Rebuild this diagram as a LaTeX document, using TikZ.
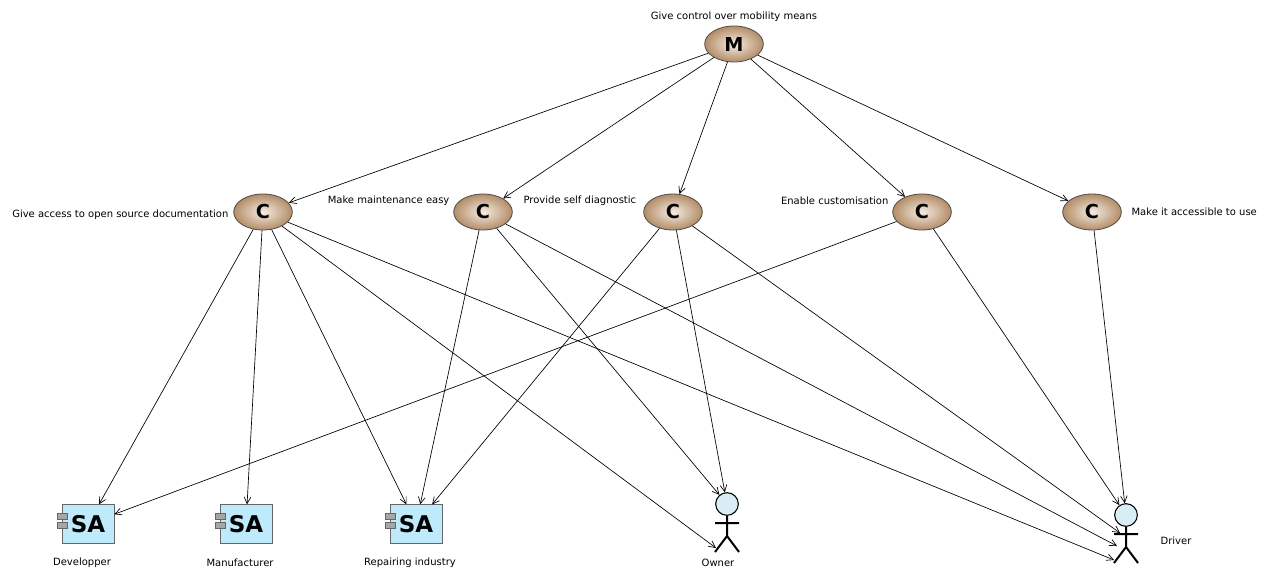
\documentclass[tikz,border=0pt]{standalone}
\usepackage{fontspec}
\setmainfont{DejaVu Sans}
\usetikzlibrary{shapes.geometric,arrows.meta}
\begin{document}
\begin{tikzpicture}[x=0.75pt,y=-0.75pt,
  goal/.style={ellipse,draw=black!70,line width=0.6pt,minimum width=44pt,minimum height=27pt,inner sep=0pt,
    inner color=white!85!brown,outer color=brown!70!white!85!black,font=\bfseries\Large},
  sa/.style={rectangle,draw=black!60,fill=cyan!25,minimum width=39pt,minimum height=29pt,inner sep=0pt,font=\bfseries\LARGE},
  lbl/.style={font=\fontsize{7.5}{9}\selectfont,inner sep=1pt},
  e/.style={-{Straight Barb[length=5pt,width=5pt]},line width=0.5pt}]
\useasboundingbox (0,0) rectangle (1269,579);
\fill[white] (0,0) rectangle (1269,579);
% goals
\node[goal] (M) at (734,44) {M};
\foreach \n/\x in {c1/263,c2/483,c3/673,c4/922,c5/1092}{\node[goal] (\n) at (\x,212) {C};}
\node[lbl] (tM) at (734,17) {Give control over mobility means};
\node[lbl,anchor=east] (t1) at (230,215) {Give access to open source documentation};
\node[lbl,anchor=east] (t2) at (451,201) {Make maintenance easy};
\node[lbl,anchor=west] (t3) at (522,201) {Provide self diagnostic};
\node[lbl,anchor=east] (t4) at (890,201) {Enable customisation};
\node[lbl,anchor=west] (t5) at (1130,212) {Make it accessible to use};
% SA
\foreach \n/\x/\t in {dev/88/Developper,man/246/Manufacturer,rep/416/Repairing industry}{
  \node[sa] (\n) at (\x,524) {SA};
  \fill[black!35,draw=black!60,line width=0.4pt] (\x-31,513) rectangle (\x-21,519) (\x-31,522) rectangle (\x-21,528);
  \node[lbl] (\n-t) at (\x-6,563) {\t};
}
% actors
\node[circle,draw=black,line width=0.8pt,fill=gray!40!cyan!20,minimum size=17pt,inner sep=0pt] (ownh) at (727,504) {};
\draw[line width=1.5pt] (ownh.south) -- (727,536) (715,523) -- (739,523) (715,552) -- (727,536) -- (739,552);
\node[lbl] (own-t) at (718,563) {Owner};
\node[circle,draw=black,line width=0.8pt,fill=gray!40!cyan!20,minimum size=17pt,inner sep=0pt] (drvh) at (1126,515) {};
\draw[line width=1.5pt] (drvh.south) -- (1126,547) (1114,534) -- (1138,534) (1114,563) -- (1126,547) -- (1138,563);
\node[lbl] (drv-t) at (1176,541) {Driver};
\coordinate (own-leg) at (716,548);
\coordinate (drv-arm) at (1120,533);
\coordinate (drv-body) at (1117,546);
\coordinate (drv-leg) at (1114,560);
% edges
\foreach \n in {c1,c2,c3,c4,c5}{\draw[e] (M) -- (\n);}
\draw[e] (c1) -- (dev);
\draw[e] (c1) -- (man);
\draw[e] (c1) -- (rep);
\draw[e] (c1) -- (own-leg);
\draw[e] (c1) -- (drv-leg);
\draw[e] (c2) -- (rep);
\draw[e] (c2) -- (ownh);
\draw[e] (c2) -- (drv-body);
\draw[e] (c3) -- (rep);
\draw[e] (c3) -- (ownh);
\draw[e] (c3) -- (drv-arm);
\draw[e] (c4) -- (dev);
\draw[e] (c4) -- (drvh);
\draw[e] (c5) -- (drvh);
\end{tikzpicture}
\end{document}
